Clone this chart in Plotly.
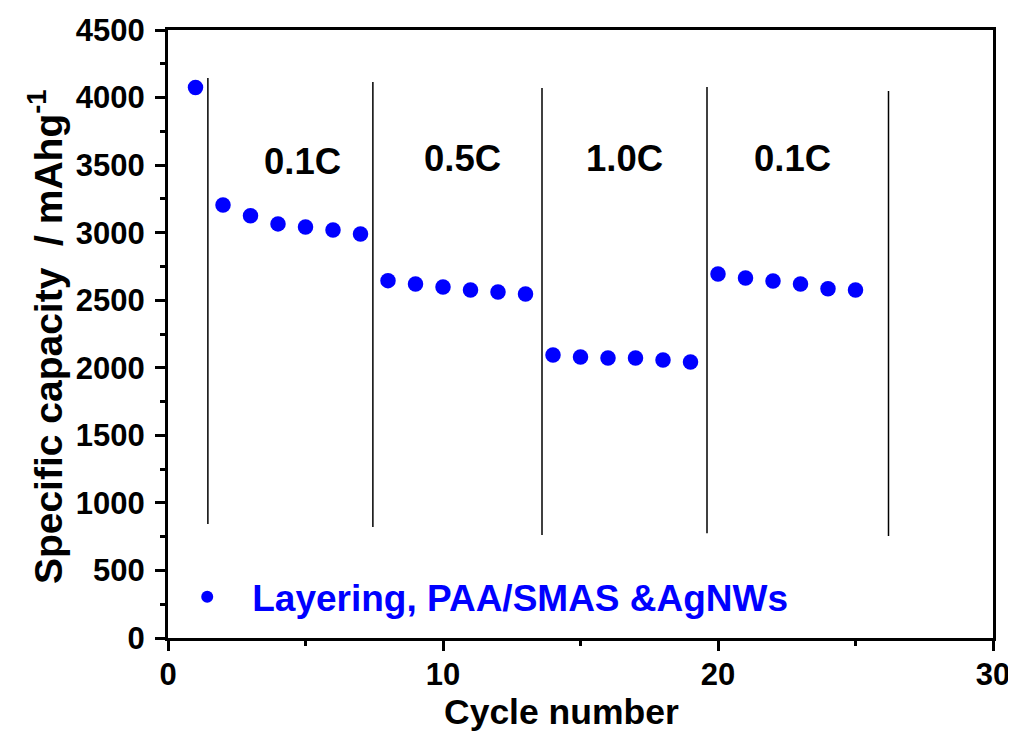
import plotly.graph_objects as go

cycles = list(range(1, 26))
capacity = [4075,
            3205, 3125, 3065, 3042, 3020, 2990,
            2645, 2620, 2598, 2576, 2561, 2546,
            2095, 2080, 2073, 2073, 2058, 2043,
            2694, 2665, 2642, 2620, 2585, 2576]

divider_x = [1.45, 7.45, 13.6, 19.6, 26.2]
divider_top = [4145, 4115, 4071, 4078, 4049]
divider_bottom = [844, 821, 762, 775, 755]

rate_labels = ["0.1C", "0.5C", "1.0C", "0.1C"]
rate_x = [4.9, 10.7, 16.6, 22.7]
rate_y = [3530, 3550, 3550, 3550]

series_name = "Layering, PAA/SMAS &AgNWs"
x_title = "Cycle number"
y_title = "Specific capacity  / mAhg<sup>-1</sup>"

FONT = "Liberation Sans, Arial, sans-serif"

fig = go.Figure()

lx, ly = [], []
for x, t, b in zip(divider_x, divider_top, divider_bottom):
    lx += [x, x, None]
    ly += [b, t, None]
fig.add_trace(go.Scatter(x=lx, y=ly, mode="lines",
                         line=dict(color="black", width=1.5),
                         showlegend=False, hoverinfo="skip"))

fig.add_trace(go.Scatter(x=cycles, y=capacity, mode="markers", name=series_name,
                         marker=dict(color="#0000FF", size=15.5, line=dict(width=0))))

for t, x, y in zip(rate_labels, rate_x, rate_y):
    fig.add_annotation(x=x, y=y, text=t, showarrow=False,
                       font=dict(family=FONT, size=36.5, color="black", weight="bold"))

# axis titles (placed as paper annotations to match the reference's offsets)
fig.add_annotation(xref="paper", yref="paper", x=0.4764, y=-0.1217,
                   xanchor="center", yanchor="middle", text=x_title, showarrow=False,
                   font=dict(family=FONT, size=35.5, color="black", weight="bold"))
fig.add_annotation(xref="paper", yref="paper", x=-0.149, y=0.495,
                   xanchor="center", yanchor="middle", text=y_title, showarrow=False,
                   textangle=-90,
                   font=dict(family=FONT, size=39, color="black", weight="bold"))

tickfont = dict(family=FONT, size=31, color="black", weight="bold")

axis_common = dict(showline=True, linecolor="black", linewidth=3, mirror=True,
                   ticks="outside", ticklen=10, tickwidth=3, tickcolor="black",
                   showgrid=False, zeroline=False, automargin=False,
                   tickfont=tickfont)

fig.update_xaxes(range=[0, 30], dtick=10, tick0=0,
                 minor=dict(dtick=5, ticks="outside", ticklen=5, tickwidth=3, tickcolor="black"),
                 ticklabelstandoff=-3,
                 **axis_common)
fig.update_yaxes(range=[0, 4500], dtick=500, tick0=0,
                 minor=dict(dtick=250, ticks="outside", ticklen=5, tickwidth=3, tickcolor="black"),
                 ticklabelstandoff=4,
                 **axis_common)

fig.update_layout(
    width=1008, height=725,
    margin=dict(l=160, r=23, t=22, b=95, autoexpand=False),
    plot_bgcolor="white", paper_bgcolor="white",
    font=dict(family=FONT),
    showlegend=True,
    legend=dict(x=-0.007, y=0.067, xanchor="left", yanchor="middle",
                bgcolor="rgba(0,0,0,0)", itemwidth=80, itemsizing="constant",
                font=dict(family=FONT, size=37, color="#0000FF", weight="bold")),
)

fig.write_html("out.html")
